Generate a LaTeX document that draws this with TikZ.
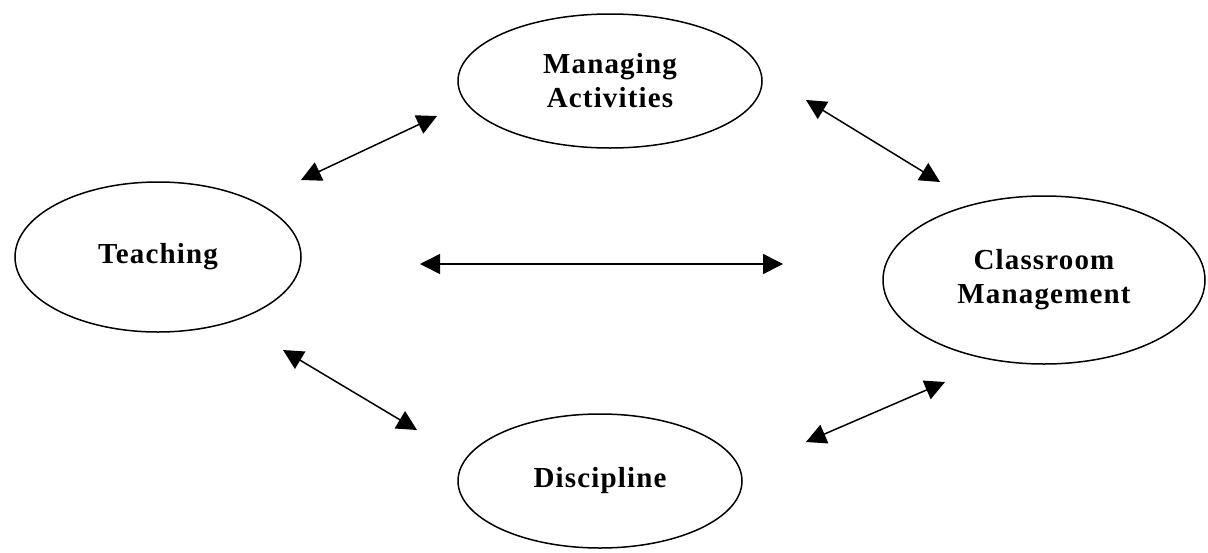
\documentclass[tikz,border=0pt]{standalone}
\usepackage{fontspec}
\newfontfamily\lblfont[LetterSpace=4]{Liberation Serif}
\usetikzlibrary{shapes.geometric,arrows.meta}
\begin{document}
\begin{tikzpicture}[x=1pt,y=-1pt,
  bubble/.style={ellipse,draw,line width=1.5pt,inner sep=0pt,align=center,
    font=\lblfont\bfseries\fontsize{29}{34}\selectfont},
  link/.style={line width=1.5pt,{Triangle[length=20pt,width=20pt]}-{Triangle[length=20pt,width=20pt]}}]
\useasboundingbox (0,0) rectangle (1208,552);
\node[bubble,minimum width=304pt,minimum height=134pt] (ma) at (610,81) {Managing\\Activities};
\node[bubble,minimum width=286pt,minimum height=150pt] (te) at (158,257) {Teaching};
\node[bubble,minimum width=322pt,minimum height=168pt] (cm) at (1044,280) {Classroom\\Management};
\node[bubble,minimum width=284pt,minimum height=134pt] (di) at (600,481) {Discipline};
\coordinate (a1) at (301,180); \coordinate (a2) at (437,116);
\coordinate (b1) at (806,100); \coordinate (b2) at (940,182);
\coordinate (c1) at (420,264); \coordinate (c2) at (783,264);
\coordinate (d1) at (283,350); \coordinate (d2) at (417,430);
\coordinate (e1) at (806,442); \coordinate (e2) at (945,382);
\draw[link] (a1) -- (a2);
\draw[link] (b1) -- (b2);
\draw[link] (c1) -- (c2);
\draw[link] (d1) -- (d2);
\draw[link] (e1) -- (e2);
\end{tikzpicture}
\end{document}
